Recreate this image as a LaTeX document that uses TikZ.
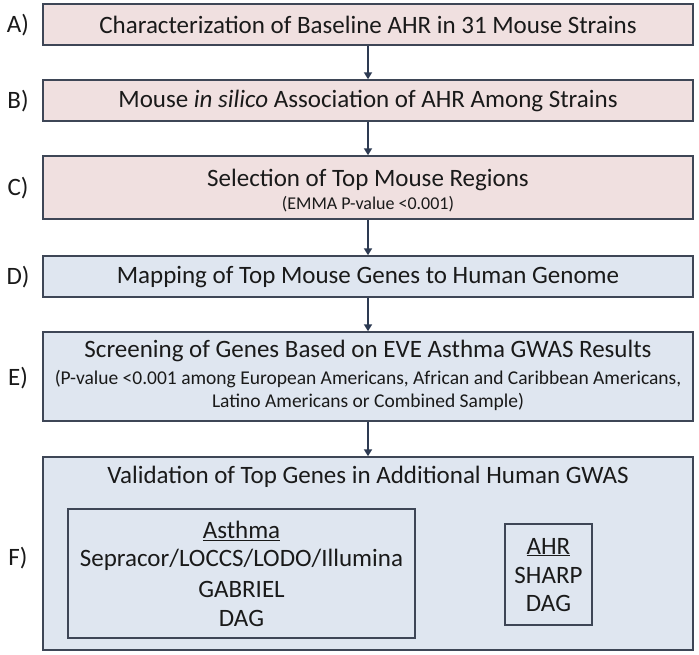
\documentclass[tikz,border=0pt]{standalone}
\usepackage{fontspec}
\setmainfont{Carlito}
\usetikzlibrary{arrows.meta}
\definecolor{pinkfill}{HTML}{F0E0E0}
\definecolor{bluefill}{HTML}{DFE6F0}
\definecolor{edgecol}{HTML}{3E4656}
\definecolor{arrowcol}{HTML}{2D3A52}
\definecolor{txtcol}{HTML}{1A1A1A}
\tikzset{
  x=1pt, y=-1pt,
  box/.style={draw=edgecol, line width=1.5pt, inner sep=0pt, anchor=center},
  pinkbox/.style={box, fill=pinkfill},
  bluebox/.style={box, fill=bluefill},
  big/.style={font=\fontsize{25}{29}\selectfont, text=txtcol, inner sep=0pt},
  small/.style={font=\fontsize{19.5}{23}\selectfont, text=txtcol, inner sep=0pt},
  tiny/.style={font=\fontsize{18}{21}\selectfont, text=txtcol, inner sep=0pt},
  lab/.style={font=\fontsize{25}{29}\selectfont, text=txtcol, inner sep=0pt},
  flow/.style={draw=arrowcol, line width=2pt, -{Triangle[length=7pt,width=8pt]}},
}
\begin{document}
\begin{tikzpicture}
\useasboundingbox (0,0) rectangle (699,654);
% boxes
\node[pinkbox, minimum width=650pt, minimum height=41pt] (A) at (368,24.5) {};
\node[pinkbox, minimum width=650pt, minimum height=41pt] (B) at (368,100.5) {};
\node[pinkbox, minimum width=650pt, minimum height=63pt] (C) at (368,187.5) {};
\node[bluebox, minimum width=650pt, minimum height=41pt] (D) at (368,276.5) {};
\node[bluebox, minimum width=650pt, minimum height=89pt] (E) at (368,376.5) {};
\node[bluebox, minimum width=650pt, minimum height=193pt] (F) at (368,553.5) {};
\node[bluebox, line width=1.3pt, minimum width=347pt, minimum height=129pt] (G) at (241.5,573.5) {};
\node[bluebox, line width=1.3pt, minimum width=87pt, minimum height=101pt] (H) at (548.5,574.5) {};
% texts
\node[big] (tA) at (368,25) {Characterization of Baseline AHR in 31 Mouse Strains};
\node[big] (tB) at (368,101) {Mouse \textit{in silico} Association of AHR Among Strains};
\node[big] (tC1) at (368,180) {Selection of Top Mouse Regions};
\node[tiny] (tC2) at (368,204) {(EMMA P-value <0.001)};
\node[big] (tD) at (368,277) {Mapping of Top Mouse Genes to Human Genome};
\node[big] (tE1) at (368,351) {Screening of Genes Based on EVE Asthma GWAS Results};
\node[small] (tE2) at (368,379) {(P-value <0.001 among European Americans, African and Caribbean Americans,};
\node[small] (tE3) at (368,402) {Latino Americans or Combined Sample)};
\node[big] (tF) at (368,477) {Validation of Top Genes in Additional Human GWAS};
\node[big] (g1) at (241.5,531) {\underline{Asthma}};
\node[big] (g2) at (241.5,560) {Sepracor/LOCCS/LODO/Illumina};
\node[big] (g3) at (241.5,589) {GABRIEL};
\node[big] (g4) at (241.5,618) {DAG};
\node[big] (h1) at (548.5,547) {\underline{AHR}};
\node[big] (h2) at (548.5,575) {SHARP};
\node[big] (h3) at (548.5,603) {DAG};
% labels
\node[lab] (lA) at (18,25) {A)};
\node[lab] (lB) at (18,101) {B)};
\node[lab] (lC) at (18,188) {C)};
\node[lab] (lD) at (18,277) {D)};
\node[lab] (lE) at (18,378) {E)};
\node[lab] (lF) at (18,558) {F)};
% arrows
\draw[flow] (A.south) -- (B.north);
\draw[flow] (B.south) -- (C.north);
\draw[flow] (C.south) -- (D.north);
\draw[flow] (D.south) -- (E.north);
\draw[flow] (E.south) -- (F.north);
\end{tikzpicture}
\end{document}
